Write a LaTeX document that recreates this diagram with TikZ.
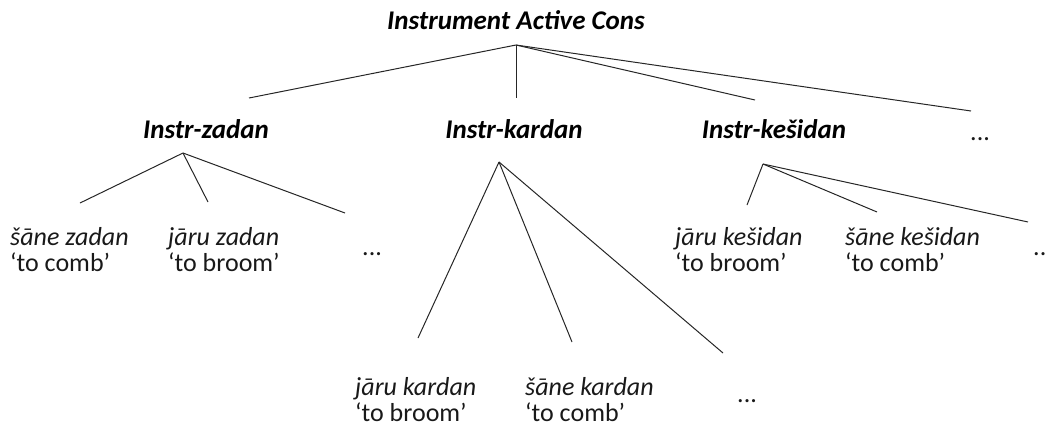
\documentclass[tikz,border=0pt]{standalone}
\usepackage{fontspec}
\setmainfont{Carlito}
\tikzset{
  lbl/.style={inner sep=0pt, font=\fontsize{27}{28}\selectfont\bfseries\itshape, text=black},
  leaf/.style={inner sep=0pt, anchor=base west, font=\fontsize{26}{25}\selectfont, text=black!90},
  dots/.style={inner sep=0pt, anchor=base west, font=\fontsize{26}{25}\selectfont, text=black!90},
  edge/.style={draw=black!85, line width=1pt}
}
\newcommand{\leaftext}[2]{\begin{tabular}[t]{@{}l@{}}\textit{#1}\\#2\end{tabular}}
\begin{document}
\begin{tikzpicture}[x=1pt,y=-1pt]
\useasboundingbox (0,0) rectangle (1057,432);
% labels
\node[lbl, anchor=base] (root) at (516,29) {Instrument Active Cons};
\node[lbl, anchor=base] (zad) at (206,138) {Instr-zadan};
\node[lbl, anchor=base] (kar) at (514,138) {Instr-kardan};
\node[lbl, anchor=base] (kes) at (774,138) {Instr-kešidan};
\node[dots] (d1) at (970,140) {...};
% leaves
\node[leaf] (sz) at (10,245) {\leaftext{šāne zadan}{‘to comb’}};
\node[leaf] (jz) at (168,245) {\leaftext{jāru zadan}{‘to broom’}};
\node[dots] (d2) at (362,255) {...};
\node[leaf] (jk) at (355,395) {\leaftext{jāru kardan}{‘to broom’}};
\node[leaf] (sk) at (525,395) {\leaftext{šāne kardan}{‘to comb’}};
\node[dots] (d3) at (737,402) {...};
\node[leaf] (jks) at (675,245) {\leaftext{jāru kešidan}{‘to broom’}};
\node[leaf] (sks) at (845,245) {\leaftext{šāne kešidan}{‘to comb’}};
\node[dots] (d4) at (1033,255) {..};
% connector points
\coordinate (rA) at (516,45);
\coordinate (r1) at (249,98);
\coordinate (r2) at (516,98);
\coordinate (r3) at (755,100);
\coordinate (r4) at (971,111);
\coordinate (zA) at (183,153);
\coordinate (z1) at (80,203);
\coordinate (z2) at (208,202);
\coordinate (z3) at (345,213);
\coordinate (kA) at (499,162);
\coordinate (k1) at (418,338);
\coordinate (k2) at (572,342);
\coordinate (k3) at (723,353);
\coordinate (sA) at (763,164);
\coordinate (s1) at (747,205);
\coordinate (s2) at (877,212);
\coordinate (s3) at (1028,222);
% connectors
\draw[edge] (rA) -- (r1);
\draw[edge] (rA) -- (r2);
\draw[edge] (rA) -- (r3);
\draw[edge] (rA) -- (r4);
\draw[edge] (zA) -- (z1);
\draw[edge] (zA) -- (z2);
\draw[edge] (zA) -- (z3);
\draw[edge] (kA) -- (k1);
\draw[edge] (kA) -- (k2);
\draw[edge] (kA) -- (k3);
\draw[edge] (sA) -- (s1);
\draw[edge] (sA) -- (s2);
\draw[edge] (sA) -- (s3);
\end{tikzpicture}
\end{document}
